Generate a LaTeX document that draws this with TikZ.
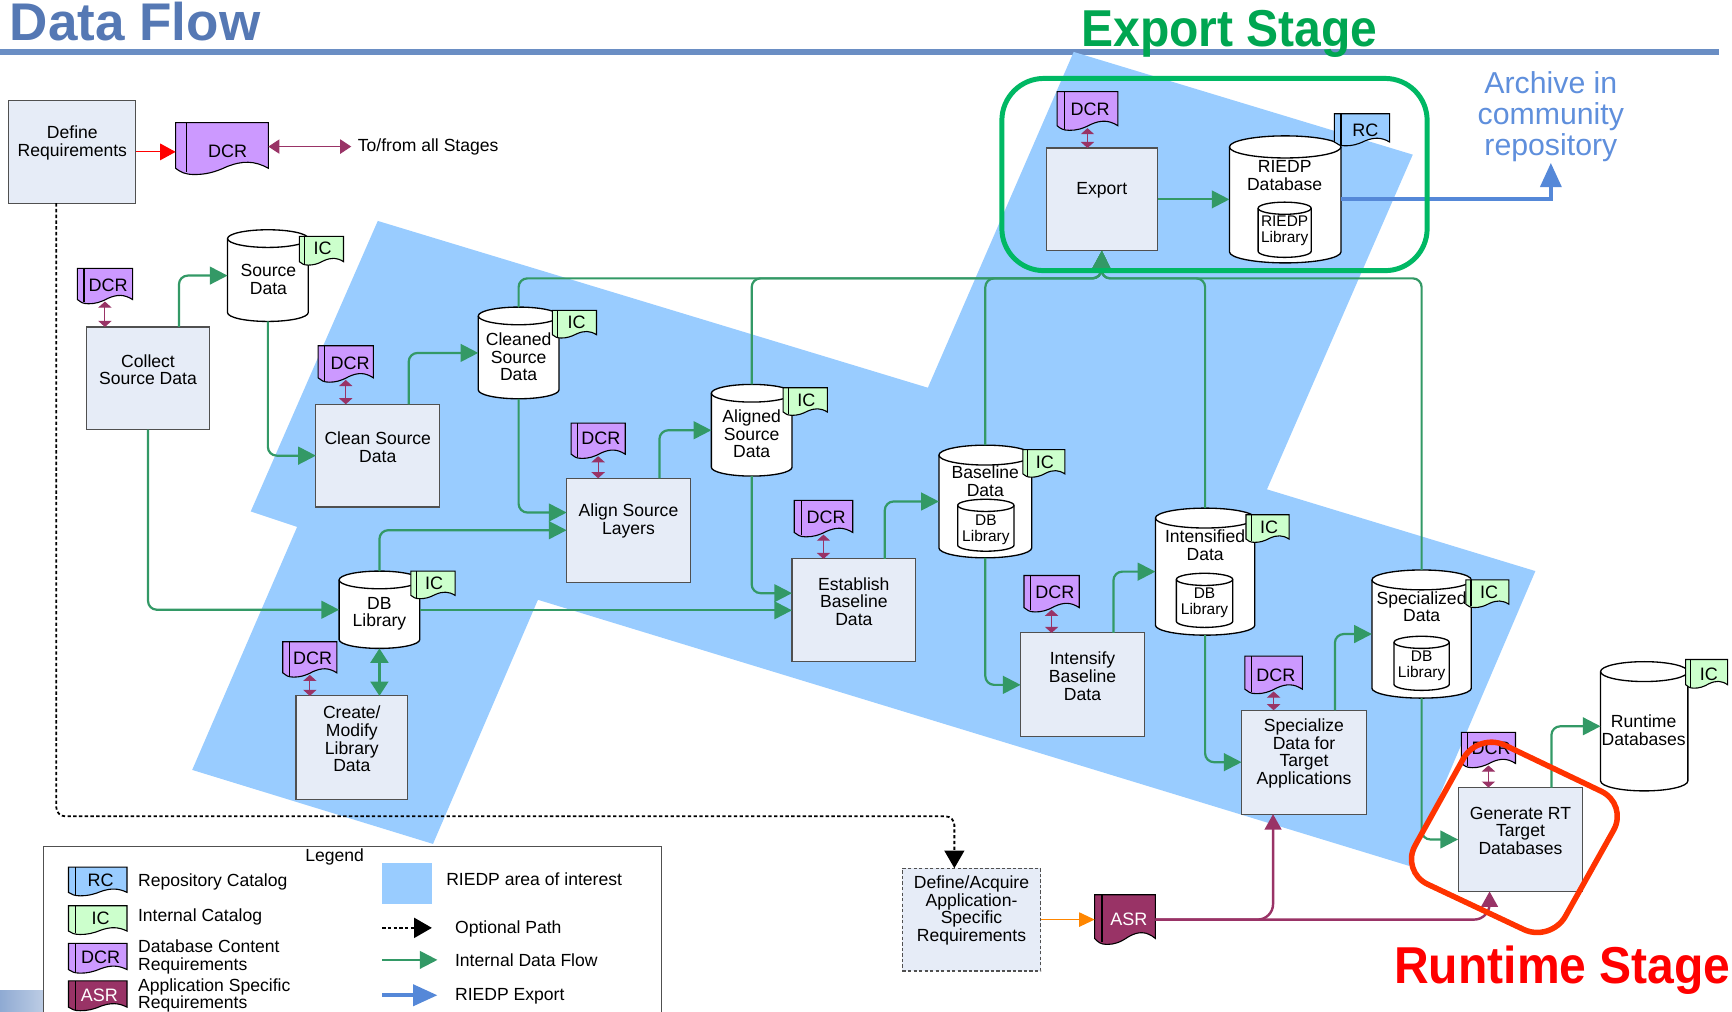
\documentclass[tikz,border=0pt]{standalone}
\usepackage{fontspec}
\setmainfont{Liberation Sans}
\usetikzlibrary{arrows.meta}
\definecolor{areablue}{HTML}{99CCFF}
\definecolor{boxfill}{HTML}{E6ECF7}
\definecolor{boxline}{HTML}{505050}
\definecolor{flowgreen}{HTML}{339966}
\definecolor{reqpurple}{HTML}{993366}
\definecolor{dcrfill}{HTML}{CC99FF}
\definecolor{icfill}{HTML}{CCFFCC}
\definecolor{titleblue}{HTML}{5578B4}
\definecolor{ruleblue}{HTML}{6A8EC4}
\definecolor{exportblue}{HTML}{5588D8}
\definecolor{stagegreen}{HTML}{00B864}
\definecolor{exporttext}{HTML}{00A651}
\definecolor{stagered}{HTML}{FF3300}
\definecolor{archiveblue}{HTML}{5F8FDC}
\tikzset{
  x=1pt,y=-1pt,
  lbl/.style={inner sep=0pt,outer sep=0pt,align=center,yshift=-.7pt,font=\fontsize{15.9}{16}\selectfont},
  lblleft/.style={lbl,anchor=west,align=left},
  smalllbl/.style={lbl,font=\fontsize{14}{14.5}\selectfont},
  doclbl/.style={lbl,yshift=.5pt,font=\fontsize{16.3}{16}\selectfont},
  procbox/.style={draw=boxline,fill=boxfill,line width=1pt,inner sep=0pt,outer sep=0pt},
  dashproc/.style={procbox,dashed,dash pattern=on 3pt off 2pt},
  anchorbox/.style={inner sep=0pt,outer sep=0pt},
  cylline/.style={draw=black,fill=white,line width=1.2pt},
  docline/.style={draw=black,line width=1pt},
  flow/.style={draw=flowgreen,line width=2pt,rounded corners=8pt,-{Triangle[length=16pt,width=16pt]}},
  bidir/.style={draw=reqpurple,line width=.9pt,{Triangle[length=5.5pt,width=12pt]}-{Triangle[length=5.5pt,width=12pt]}},
  bigbidir/.style={draw=reqpurple,line width=.9pt,{Triangle[length=10pt,width=13pt]}-{Triangle[length=10pt,width=13pt]}},
  purpleflow/.style={draw=reqpurple,line width=2.2pt,rounded corners=14pt,-{Triangle[length=14pt,width=15pt]}},
  optional/.style={draw=black,line width=1.6pt,dash pattern=on 3pt off 2.2pt,rounded corners=8pt,-{Triangle[length=16pt,width=18pt]}},
  exportarrow/.style={draw=exportblue,line width=3.5pt,-{Triangle[length=22pt,width=19pt]}},
}
% process box: name x1 y1 x2 y2 textcentre-y text
\newcommand{\procn}[7]{%
  \node[procbox,minimum width={(#4-#2)*1pt},minimum height={(#5-#3)*1pt}] (#1) at ({(#2+#4)/2},{(#3+#5)/2}) {};
  \node[lbl] (#1T) at ({(#2+#4)/2},#6) {#7};}
% cylinder: name x1 y1 x2 y2 ellipse
\newcommand{\cyln}[6]{%
  \path[cylline] ({#2},{#3+#6}) -- ({#2},{#5-#6})
    arc[start angle=180,end angle=360,x radius={(#4-#2)/2*1pt},y radius={#6*1pt}]
    -- ({#4},{#3+#6})
    arc[start angle=0,end angle=180,x radius={(#4-#2)/2*1pt},y radius={#6*1pt}] -- cycle;
  \draw[line width=1.2pt] ({#2},{#3+#6})
    arc[start angle=180,end angle=360,x radius={(#4-#2)/2*1pt},y radius={#6*1pt}];
  \node[anchorbox,minimum width={(#4-#2)*1pt},minimum height={(#5-#3)*1pt}] (#1) at ({(#2+#4)/2},{(#3+#5)/2}) {};}
% document: name x1 y1 x2 y2 fill textx texty text
\newcommand{\docn}[9]{%
  \path[docline,fill=#6] ({#2},{#3}) -- ({#4},{#3}) -- ({#4},{#5-.12*(#5-#3)})
    .. controls ({#2+.85*(#4-#2)},{#5-.27*(#5-#3)}) and ({#2+.72*(#4-#2)},{#5-.27*(#5-#3)}) .. ({#2+.55*(#4-#2)},{#5-.15*(#5-#3)})
    .. controls ({#2+.42*(#4-#2)},{#5-.04*(#5-#3)}) and ({#2+.32*(#4-#2)},{#5}) .. ({#2+.2*(#4-#2)},{#5})
    .. controls ({#2+.1*(#4-#2)},{#5}) and ({#2+.05*(#4-#2)},{#5-.05*(#5-#3)}) .. ({#2},{#5-.12*(#5-#3)}) -- cycle;
  \draw[docline] ({#2+.12*(#4-#2)},{#3}) -- ({#2+.12*(#4-#2)},{#5-.04*(#5-#3)});
  \node[anchorbox,minimum width={(#4-#2)*1pt},minimum height={(#5-#3)*1pt}] (#1) at ({(#2+#4)/2},{(#3+#5)/2}) {};
  \node[doclbl] (#1T) at (#7,#8) {#9};}
\begin{document}
\begin{tikzpicture}
\useasboundingbox (0,0) rectangle (1568,916);
\clip (0,0) rectangle (1568,916);
% title and rule
\node[lblleft,font=\fontsize{48}{48}\bfseries\selectfont,text=titleblue] (title) at (9,18.5) {Data Flow};
\fill[ruleblue] (0,44.5) rectangle (1556,49.5);
\node[lbl,font=\fontsize{43.5}{44}\bfseries\selectfont,text=exporttext,anchor=base] (exportstage) at (1113,41) {\scalebox{1}[1.08]{Export Stage}};
% area of interest
\fill[areablue] (342,200) -- (840,351) -- (972,47) -- (1279,140) -- (1147,443) -- (1390,517)
  -- (1276,784) -- (487,543) -- (392,764) -- (174,697) -- (269,477) -- (227,463) -- cycle;
% bottom-left tab
\path[left color=ruleblue!75,right color=ruleblue!45] (0,897) rectangle (39,916);
% legend
\node[draw=boxline,fill=white,line width=1pt,anchor=north west,inner sep=0pt,minimum width=559pt,minimum height=170pt] (legend) at (39,766) {};
\node[lbl] (legendT) at (303,775) {Legend};
\docn{lgrc}{62}{785}{115}{811}{areablue}{91}{797}{RC}
\node[lblleft] (lgrcT2) at (125,798) {Repository Catalog};
\docn{lgic}{62}{820}{115}{846}{icfill}{91}{831}{IC}
\node[lblleft] (lgicT2) at (125,829) {Internal Catalog};
\docn{lgdcr}{62}{854}{115}{881}{dcrfill}{91}{866}{DCR}
\node[lblleft] (lgdcrT2) at (125,865.5) {Database Content\\Requirements};
\docn{lgasr}{62}{888}{115}{915}{reqpurple}{90}{901}{\textcolor{white}{ASR}}
\node[lblleft] (lgasrT2) at (125,900.5) {Application Specific\\Requirements};
\node[fill=areablue,anchor=north west,inner sep=0pt,minimum width=45pt,minimum height=37pt] (lgarea) at (346,781) {};
\node[lblleft] (lgareaT) at (404,795) {RIEDP area of interest};
\node[lblleft] (lgoptT) at (412,840) {Optional Path};
\node[lblleft] (lgflowT) at (412,869) {Internal Data Flow};
\node[lblleft] (lgexpT) at (412,901) {RIEDP Export};
\coordinate (lgoptA) at (346,840); \coordinate (lgoptB) at (391,840);
\coordinate (lgflowA) at (346,869); \coordinate (lgflowB) at (396,869);
\coordinate (lgexpA) at (346,901); \coordinate (lgexpB) at (396,901);
% processes
\procn{define}{8}{91}{123}{184}{129}{Define\\Requirements}
\procn{collect}{78}{296}{190}{389}{334}{Collect\\Source Data}
\procn{clean}{286}{366}{398}{459}{404}{Clean Source\\Data}
\procn{align}{513}{433}{625}{527}{471}{Align Source\\Layers}
\procn{establish}{717}{506}{829}{599}{544}{Establish\\Baseline\\Data}
\procn{intensify}{924}{573}{1036}{667}{611.5}{Intensify\\Baseline\\Data}
\procn{specialize}{1124}{643}{1237}{737}{681.5}{Specialize\\Data for\\Target\\Applications}
\procn{generate}{1320}{713}{1433}{807}{751.5}{Generate RT\\Target\\Databases}
\procn{create}{268}{630}{369}{724}{668.5}{Create/\\Modify\\Library\\Data}
\procn{export}{947}{134}{1048}{227}{171.5}{Export}
\node[dashproc,minimum width=125pt,minimum height=93pt] (defacq) at (879.5,832.5) {};
\node[lbl] (defacqT) at (879.5,823.5) {Define/Acquire\\Application-\\Specific\\Requirements};
% stores
\cyln{source}{206}{208}{279}{291}{8}
\node[lbl] (sourceT) at (243,252) {Source\\Data};
\cyln{cleaned}{433}{278}{506}{361}{8}
\node[lbl] (cleanedT) at (469.5,322.5) {Cleaned\\Source\\Data};
\cyln{aligned}{644}{348}{717}{431}{8}
\node[lbl] (alignedT) at (680.5,392) {Aligned\\Source\\Data};
\cyln{dblib}{307}{517}{380}{587}{8}
\node[lbl] (dblibT) at (343.5,555) {DB\\Library};
\cyln{baseline}{850}{403}{934}{505}{9}
\node[lbl] (baselineT) at (892,435) {Baseline\\Data};
\cyln{baselinein}{867}{452}{918}{499}{5.5}
\node[smalllbl] (baselineinT) at (892.5,479) {DB\\Library};
\cyln{intensified}{1046}{460}{1136}{575}{9}
\node[lbl] (intensifiedT) at (1091,493) {Intensified\\Data};
\cyln{intensifiedin}{1065}{519}{1116}{568}{5.5}
\node[smalllbl] (intensifiedinT) at (1090.5,545) {DB\\Library};
\cyln{specialized}{1242}{516}{1332}{632}{9}
\node[lbl] (specializedT) at (1287,548.5) {Specialized\\Data};
\cyln{specializedin}{1262}{576}{1312}{625}{5.5}
\node[smalllbl] (specializedinT) at (1287,602) {DB\\Library};
\cyln{runtime}{1449}{599}{1528}{716}{9}
\node[lbl] (runtimeT) at (1488,660.5) {Runtime\\Databases};
\cyln{riedp}{1113}{123}{1214}{238}{10}
\node[lbl] (riedpT) at (1163,158.5) {RIEDP\\Database};
\cyln{riedpin}{1139}{183}{1187}{233}{5.5}
\node[smalllbl] (riedpinT) at (1163,208.5) {RIEDP\\Library};
% documents and catalogues
\docn{dcrmain}{159}{111}{243}{158}{dcrfill}{206}{137}{DCR}
\docn{dcrcollect}{70}{243}{120}{275}{dcrfill}{98}{258}{DCR}
\docn{dcrclean}{288}{313}{338}{346}{dcrfill}{317}{329}{DCR}
\docn{dcralign}{517}{383}{566}{415}{dcrfill}{544}{397}{DCR}
\docn{dcrestablish}{719}{453}{772}{486}{dcrfill}{748}{468}{DCR}
\docn{dcrintensify}{927}{521}{977}{554}{dcrfill}{955}{536}{DCR}
\docn{dcrspecialize}{1127}{594}{1179}{628}{dcrfill}{1155}{611}{DCR}
\docn{dcrgenerate}{1323}{663}{1372}{695}{dcrfill}{1350}{677}{DCR}
\docn{dcrcreate}{256}{581}{305}{613}{dcrfill}{283}{596}{DCR}
\docn{dcrexport}{957}{83}{1012}{118}{dcrfill}{987}{99}{DCR}
\docn{icsource}{271}{214}{311}{240}{icfill}{292}{225}{IC}
\docn{iccleaned}{500}{281}{540}{306}{icfill}{522}{292}{IC}
\docn{icaligned}{709}{351}{749}{376}{icfill}{730}{362}{IC}
\docn{icdblib}{372}{517}{412}{542}{icfill}{393}{528}{IC}
\docn{icbaseline}{926}{407}{964}{432}{icfill}{946}{418}{IC}
\docn{icintensified}{1128}{466}{1167}{491}{icfill}{1149}{477}{IC}
\docn{icspecialized}{1327}{525}{1366}{550}{icfill}{1348}{536}{IC}
\docn{icruntime}{1526}{597}{1564}{623}{icfill}{1547}{610}{IC}
\docn{rcriedp}{1208}{103}{1258}{132}{areablue}{1236}{118}{RC}
\docn{asr}{991}{810}{1046}{855}{reqpurple}{1022}{832}{\textcolor{white}{ASR}}
% free texts
\node[lblleft] (tofrom) at (324,132) {To/from all Stages};
\node[lbl,font=\fontsize{27.4}{28}\selectfont,text=archiveblue] (archive) at (1404,105) {Archive in\\community\\repository};
\coordinate (bus) at (997,252);
\coordinate (dotbend) at (864,739);
% connectors
\draw[draw=red,line width=1pt,-{Triangle[length=14pt,width=15pt,fill=red]}] (define.east) -- (define.east -| dcrmain.west);
\draw[bigbidir] (dcrmain.east |- tofrom.west) -- ([xshift=-6pt]tofrom.west);
\draw[optional] ([xshift=-14.5pt]define.south) |- (dotbend) -- (dotbend |- defacq.north);
\draw[bidir] ([yshift=2pt]dcrcollect.south) -- (dcrcollect.south |- collect.north);
\draw[bidir] ([yshift=2pt]dcrclean.south) -- (dcrclean.south |- clean.north);
\draw[bidir] ([yshift=2pt]dcralign.south) -- (dcralign.south |- align.north);
\draw[bidir] ([yshift=2pt]dcrestablish.south) -- (dcrestablish.south |- establish.north);
\draw[bidir] ([yshift=2pt]dcrintensify.south) -- (dcrintensify.south |- intensify.north);
\draw[bidir] ([yshift=2pt]dcrspecialize.south) -- (dcrspecialize.south |- specialize.north);
\draw[bidir] ([yshift=2pt]dcrgenerate.south) -- (dcrgenerate.south |- generate.north);
\draw[bidir] ([yshift=2pt]dcrcreate.south) -- (dcrcreate.south |- create.north);
\draw[bidir] ([yshift=2pt]dcrexport.south) -- (dcrexport.south |- export.north);
\draw[flow] ([xshift=28pt]collect.north) |- (source.west);
\draw[flow] (source.south) |- (clean.west);
\draw[flow] ([xshift=28pt]clean.north) |- (cleaned.west);
\draw[flow] (cleaned.south) |- ([yshift=16pt]align.west);
\draw[flow] ([xshift=28pt]align.north) |- (aligned.west);
\draw[flow] (aligned.south) |- ([yshift=15.5pt]establish.west);
\draw[flow] ([xshift=28pt]establish.north) |- (baseline.west);
\draw[flow] (baseline.south) |- (intensify.west);
\draw[flow] ([xshift=28pt]intensify.north) |- (intensified.west);
\draw[flow] (intensified.south) |- (specialize.west);
\draw[flow] ([xshift=28pt]specialize.north) |- (specialized.west);
\draw[flow] (specialized.south) |- (generate.west);
\draw[flow] ([xshift=28pt]generate.north) |- (runtime.west);
\draw[flow] (collect.south) |- (dblib.west);
\draw[flow] (dblib.north) |- (align.west);
\draw[flow] (dblib.east |- establish.west) -- (establish.west);
\draw[draw=flowgreen,line width=2.6pt,{Triangle[length=13pt,width=16pt]}-{Triangle[length=13pt,width=16pt]}] (dblib.south) -- (dblib.south |- create.north);
\draw[flow] (export.east) -- (riedp.west);
\draw[flow] (cleaned.north) |- (bus) -- (export.south);
\draw[flow] (aligned.north) |- (bus) -- (export.south);
\draw[flow] (baseline.north) |- (bus) -- (export.south);
\draw[flow] (intensified.north) |- (bus) -- (export.south);
\draw[flow] (specialized.north) |- (bus) -- (export.south);
\draw[exportarrow] (riedp.east) -| ([yshift=-1pt]archive.south);
\draw[draw=orange!95!yellow,line width=1pt,-{Triangle[length=14pt,width=13pt]}] (defacq.east) -- (defacq.east -| asr.west);
\draw[purpleflow] (asr.east) -| ([xshift=-28pt]specialize.south);
\draw[purpleflow] (asr.east) -| ([xshift=-28pt]generate.south);
% legend samples
\draw[optional] (lgoptA) -- (lgoptB);
\draw[flow] (lgflowA) -- (lgflowB);
\draw[exportarrow] (lgexpA) -- (lgexpB);
% stage highlights
\draw[draw=stagegreen,line width=4.5pt,rounded corners=38pt] (907,71) rectangle (1292,245);
\draw[draw=stagered,line width=5pt,rounded corners=27pt] (1338,663) -- (1474,728) -- (1404,853) -- (1268,789) -- cycle;
\node[lbl,font=\fontsize{43.5}{44}\bfseries\selectfont,text=red,anchor=base] (runtimestage) at (1414.5,890) {\scalebox{1}[1.08]{Runtime Stage}};
\end{tikzpicture}
\end{document}
